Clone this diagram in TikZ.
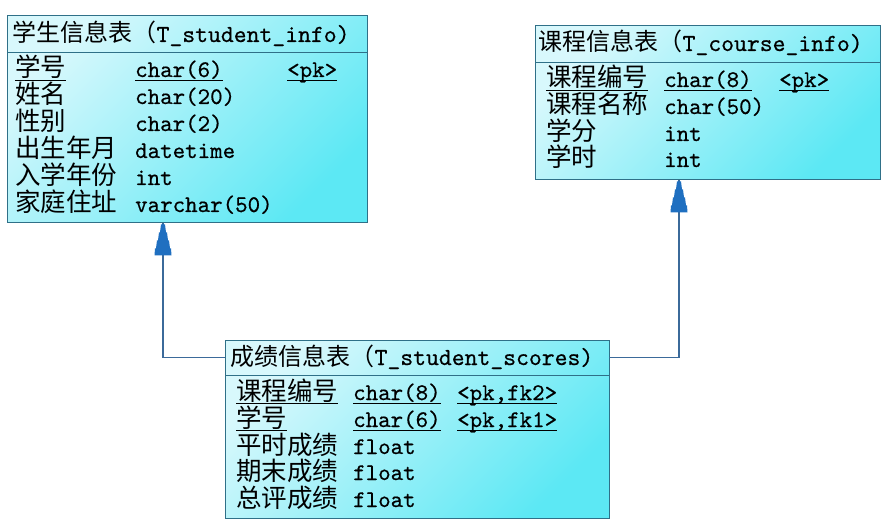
\documentclass[tikz,border=0pt]{standalone}
\usepackage{fontspec}
\newfontfamily\cjk{Noto Sans CJK SC}
\newfontfamily\mono{lmmono10-regular.otf}[FakeBold=0.5]
\definecolor{bordc}{HTML}{2F7088}
\definecolor{connc}{HTML}{3B6A9A}
\definecolor{arrc}{HTML}{1F6FC0}
\definecolor{fillA}{HTML}{D8F8FC}
\definecolor{fillB}{HTML}{5CE8F4}
\tikzset{
  tbl/.style={draw=bordc, line width=1.4pt, top color=fillA, bottom color=fillB, shading angle=45, inner sep=0, anchor=north west},
  hdr/.style={inner sep=0, anchor=north west},
  sepline/.style={draw=bordc, line width=1.3pt},
  conn/.style={draw=connc, line width=1.2pt},
  ul/.style={draw=black, line width=0.9pt},
  hcn/.style={font=\cjk\fontsize{24}{24}\selectfont, inner sep=0, anchor=base west},
  hlt/.style={font=\mono\fontsize{24.5}{25}\selectfont, inner sep=0, anchor=base west},
  cn/.style={font=\cjk\fontsize{25.5}{26}\selectfont, inner sep=0, anchor=base west},
  lt/.style={font=\mono\fontsize{23.8}{24}\selectfont, inner sep=0, anchor=base west},
  stair/.pic={\fill[arrc] (-2,1) -- (2,1) -- (3,9) -- (4,9) -- (5,17) -- (6,17) -- (7,25) -- (8,25) -- (8.5,32) -- (-8.5,32) -- (-8,25) -- (-7,25) -- (-6,17) -- (-5,17) -- (-4,9) -- (-3,9) -- cycle;}
}
\begin{document}
\begin{tikzpicture}[x=1pt,y=-1pt]
\useasboundingbox (0,0) rectangle (889,529);
% ---------- table 1 ----------
\node[tbl, minimum width=360pt, minimum height=207pt] (t1) at (7,15) {};
\node[hdr, minimum width=360pt, minimum height=37pt] (h1) at (7,15) {};
\draw[sepline] (h1.south west) -- (h1.south east);
\node[hcn] (t1h) at (12,42) {学生信息表（};
\node[hlt] (t1ht) at (t1h.base east) {T\_student\_info)};
\node[cn] (t1n1) at (15,77) {学号};
\node[lt] (t1d1) at (135,77) {char(6)};
\node[lt] (t1k1) at (287,77) {<pk>};
\node[cn] (t1n2) at (15,104) {姓名};
\node[lt] (t1d2) at (135,104) {char(20)};
\node[cn] (t1n3) at (15,131) {性别};
\node[lt] (t1d3) at (135,131) {char(2)};
\node[cn] (t1n4) at (15,158) {出生年月};
\node[lt] (t1d4) at (135,158) {datetime};
\node[cn] (t1n5) at (15,185) {入学年份};
\node[lt] (t1d5) at (135,185) {int};
\node[cn] (t1n6) at (15,212) {家庭住址};
\node[lt] (t1d6) at (135,212) {varchar(50)};
\foreach \n in {t1n1,t1d1,t1k1}{\draw[ul] ([yshift=-3.5pt]\n.base west) -- ([yshift=-3.5pt]\n.base east);}
% ---------- table 2 ----------
\node[tbl, minimum width=345pt, minimum height=154pt] (t2) at (535,25) {};
\node[hdr, minimum width=345pt, minimum height=37pt] (h2) at (535,25) {};
\draw[sepline] (h2.south west) -- (h2.south east);
\node[hcn] (t2h) at (538,51) {课程信息表（};
\node[hlt] (t2ht) at (t2h.base east) {T\_course\_info)};
\node[cn] (t2n1) at (546,87) {课程编号};
\node[lt] (t2d1) at (664,87) {char(8)};
\node[lt] (t2k1) at (779,87) {<pk>};
\node[cn] (t2n2) at (546,114) {课程名称};
\node[lt] (t2d2) at (664,114) {char(50)};
\node[cn] (t2n3) at (546,141) {学分};
\node[lt] (t2d3) at (664,141) {int};
\node[cn] (t2n4) at (546,167) {学时};
\node[lt] (t2d4) at (664,167) {int};
\foreach \n in {t2n1,t2d1,t2k1}{\draw[ul] ([yshift=-3.5pt]\n.base west) -- ([yshift=-3.5pt]\n.base east);}
% ---------- table 3 ----------
\node[tbl, minimum width=384pt, minimum height=178pt] (t3) at (225,340) {};
\node[hdr, minimum width=384pt, minimum height=35pt] (h3) at (225,340) {};
\draw[sepline] (h3.south west) -- (h3.south east);
\node[hcn] (t3h) at (230,365) {成绩信息表（};
\node[hlt] (t3ht) at (t3h.base east) {T\_student\_scores)};
\node[cn] (t3n1) at (236,400) {课程编号};
\node[lt] (t3d1) at (353,400) {char(8)};
\node[lt] (t3k1) at (457,400) {<pk,fk2>};
\node[cn] (t3n2) at (236,427) {学号};
\node[lt] (t3d2) at (353,427) {char(6)};
\node[lt] (t3k2) at (457,427) {<pk,fk1>};
\node[cn] (t3n3) at (236,454) {平时成绩};
\node[lt] (t3d3) at (353,454) {float};
\node[cn] (t3n4) at (236,480) {期末成绩};
\node[lt] (t3d4) at (353,480) {float};
\node[cn] (t3n5) at (236,507) {总评成绩};
\node[lt] (t3d5) at (353,507) {float};
\foreach \n in {t3n1,t3d1,t3k1,t3n2,t3d2,t3k2}{\draw[ul] ([yshift=-3.5pt]\n.base west) -- ([yshift=-3.5pt]\n.base east);}
% ---------- connectors ----------
\coordinate (a1) at (t1.south -| 163,0);
\coordinate (a2) at (t2.south -| 679,0);
\draw[conn] (h3.west) -| (a1);
\draw[conn] (h3.east) -| (a2);
\pic at (a1) {stair};
\pic at (a2) {stair};
\end{tikzpicture}
\end{document}
